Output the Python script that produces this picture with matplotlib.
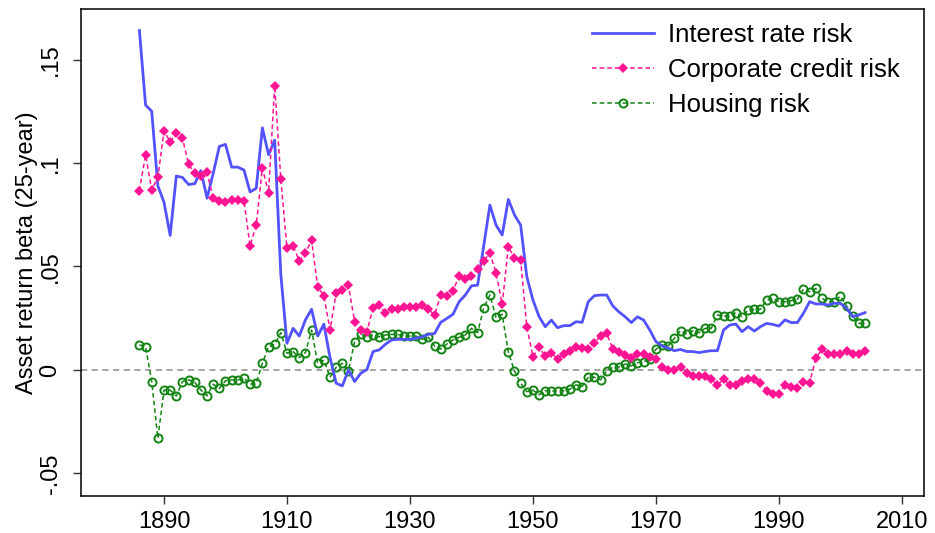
import numpy as np
import matplotlib
matplotlib.use("Agg")
import matplotlib.pyplot as plt

plt.rcParams['font.family'] = ['Liberation Sans', 'DejaVu Sans']

# Data (annual, 1886-2004)
years = np.arange(1886, 2005)

interest_rate = [
    0.164, 0.128, 0.125, 0.089, 0.081, 0.065, 0.0937, 0.093, 0.0896, 0.090,      # 1886-1895
    0.0963, 0.083, 0.095, 0.108, 0.109, 0.098, 0.098, 0.0966, 0.086, 0.0878,     # 1896-1905
    0.117, 0.104, 0.111, 0.046, 0.0129, 0.0201, 0.0164, 0.0242, 0.0293, 0.0164,  # 1906-1915
    0.0221, 0.006, -0.0064, -0.0077, 0.0, -0.0056, -0.0016, 0.0002, 0.0089, 0.0097,  # 1916-1925
    0.0124, 0.0145, 0.0148, 0.0148, 0.0148, 0.0153, 0.016, 0.0172, 0.0176, 0.0230,   # 1926-1935
    0.0249, 0.0269, 0.033, 0.0362, 0.0406, 0.041, 0.060, 0.0797, 0.070, 0.0652,      # 1936-1945
    0.0824, 0.0749, 0.070, 0.0451, 0.0338, 0.0258, 0.0209, 0.0241, 0.0204, 0.0214,   # 1946-1955
    0.0214, 0.0233, 0.023, 0.033, 0.0359, 0.0362, 0.0362, 0.0309, 0.028, 0.0257,     # 1956-1965
    0.0229, 0.0257, 0.0241, 0.0193, 0.0137, 0.0116, 0.0105, 0.0093, 0.0099, 0.0089,  # 1966-1975
    0.0089, 0.0084, 0.0089, 0.0093, 0.0093, 0.0193, 0.0217, 0.0222, 0.0185, 0.0209,  # 1976-1985
    0.0188, 0.0209, 0.0225, 0.0220, 0.0212, 0.0242, 0.0229, 0.0229, 0.0274, 0.033,   # 1986-1995
    0.0319, 0.0319, 0.0314, 0.0322, 0.0322, 0.0298, 0.0258, 0.0266, 0.0277,          # 1996-2004
]

corporate_credit = [
    0.0866, 0.1039, 0.0870, 0.0931, 0.1155, 0.1103, 0.1143, 0.1119, 0.0994, 0.0950,  # 1886-1895
    0.0937, 0.0955, 0.0829, 0.0818, 0.0813, 0.0821, 0.0821, 0.0818, 0.0599, 0.0700,  # 1896-1905
    0.0977, 0.0854, 0.1374, 0.0921, 0.0588, 0.0600, 0.0527, 0.0563, 0.0628, 0.0400,  # 1906-1915
    0.0359, 0.0193, 0.0374, 0.0386, 0.0409, 0.0233, 0.0193, 0.0185, 0.0301, 0.0312,  # 1916-1925
    0.0277, 0.0293, 0.0293, 0.0306, 0.0306, 0.0306, 0.0314, 0.0293, 0.0266, 0.0362,  # 1926-1935
    0.0357, 0.0381, 0.0456, 0.0440, 0.0456, 0.0486, 0.0527, 0.0564, 0.0470, 0.0317,  # 1936-1945
    0.0596, 0.0540, 0.0531, 0.0209, 0.0064, 0.0109, 0.0067, 0.0083, 0.0053, 0.0076,  # 1946-1955
    0.0093, 0.0109, 0.0104, 0.0099, 0.0132, 0.0164, 0.0177, 0.0100, 0.0089, 0.0072,  # 1956-1965
    0.0056, 0.0077, 0.0076, 0.0061, 0.0052, 0.0013, 0.0000, 0.0000, 0.0016, -0.0013, # 1966-1975
    -0.0029, -0.0029, -0.0029, -0.0045, -0.0072, -0.0045, -0.0072, -0.0072, -0.0051, -0.0045,  # 1976-1985
    -0.0045, -0.0061, -0.0100, -0.0116, -0.0116, -0.0072, -0.0080, -0.0088, -0.0056, -0.0061,  # 1986-1995
    0.0056, 0.0100, 0.0077, 0.0077, 0.0077, 0.0093, 0.0077, 0.0077, 0.0093,          # 1996-2004
]

housing = [
    0.0121, 0.0113, -0.0056, -0.0330, -0.0097, -0.0097, -0.0126, -0.0056, -0.0048, -0.0060,  # 1886-1895
    -0.0097, -0.0125, -0.0069, -0.0089, -0.0052, -0.0048, -0.0048, -0.0040, -0.0069, -0.0064,  # 1896-1905
    0.0032, 0.0113, 0.0124, 0.0180, 0.0081, 0.0089, 0.0060, 0.0084, 0.0193, 0.0032,  # 1906-1915
    0.0048, -0.0035, 0.0013, 0.0032, -0.0003, 0.0137, 0.0174, 0.0160, 0.0169, 0.0160,  # 1916-1925
    0.0169, 0.0172, 0.0172, 0.0164, 0.0164, 0.0164, 0.0148, 0.0158, 0.0116, 0.0101,  # 1926-1935
    0.0125, 0.0145, 0.0158, 0.0169, 0.0201, 0.0180, 0.0301, 0.0362, 0.0254, 0.0269,  # 1936-1945
    0.0085, -0.0005, -0.0064, -0.0105, -0.0097, -0.0120, -0.0100, -0.0102, -0.0100, -0.0100,  # 1946-1955
    -0.0093, -0.0072, -0.0080, -0.0035, -0.0035, -0.0048, -0.0003, 0.0013, 0.0015, 0.0029,  # 1956-1965
    0.0020, 0.0035, 0.0040, 0.0052, 0.0100, 0.0121, 0.0116, 0.0153, 0.0190, 0.0174,  # 1966-1975
    0.0190, 0.0180, 0.0201, 0.0201, 0.0266, 0.0261, 0.0261, 0.0277, 0.0257, 0.0290,  # 1976-1985
    0.0293, 0.0293, 0.0338, 0.0346, 0.0330, 0.0330, 0.0335, 0.0341, 0.0390, 0.0378,  # 1986-1995
    0.0394, 0.0346, 0.0330, 0.0330, 0.0357, 0.0309, 0.0261, 0.0225, 0.0225,          # 1996-2004
]

xticks = [1890, 1910, 1930, 1950, 1970, 1990, 2010]
yticks = [-0.05, 0, 0.05, 0.1, 0.15]
ytick_labels = ['-.05', '0', '.05', '.1', '.15']

fig = plt.figure(figsize=(9.35, 5.33), dpi=100)
ax = fig.add_axes([81 / 935, 1 - 496 / 533, (924 - 81) / 935, (496 - 9) / 533])

ax.axhline(0, color='#8c8c8c', linewidth=1.1, linestyle=(0, (4, 3)), zorder=1)

ax.plot(years, interest_rate, color='#5252ff', linewidth=2.0, label='Interest rate risk', zorder=3)
ax.plot(years, corporate_credit, color='#ff1493', linewidth=1.1, linestyle=(0, (3, 2)),
        marker='D', markersize=5.0, markeredgewidth=0, label='Corporate credit risk', zorder=4)
ax.plot(years, housing, color='#138413', linewidth=1.1, linestyle=(0, (3, 2)),
        marker='o', markersize=5.8, markerfacecolor='none', markeredgewidth=1.4,
        label='Housing risk', zorder=2)

ax.set_xlim(1876.5, 2013.6)
ax.set_ylim(-0.0609, 0.1744)
ax.set_xticks(xticks)
ax.set_xticklabels([str(t) for t in xticks])
ax.set_yticks(yticks)
ax.set_yticklabels(ytick_labels, rotation=90, va='center')

ax.tick_params(axis='both', direction='out', length=6, width=1, labelsize=17, color='#333333')
ax.tick_params(axis='x', pad=5)
ax.tick_params(axis='y', pad=8)
for s in ax.spines.values():
    s.set_linewidth(1.1)

ax.set_ylabel('Asset return beta (25-year)', fontsize=17, labelpad=1)

leg = ax.legend(loc='upper left', bbox_to_anchor=(592 / 935, 1 - 23 / 533), bbox_transform=fig.transFigure,
                frameon=False, fontsize=18.5, handlelength=2.4, handletextpad=0.55,
                labelspacing=0.42, borderpad=0, borderaxespad=0)

fig.savefig('out.png', dpi=100)
